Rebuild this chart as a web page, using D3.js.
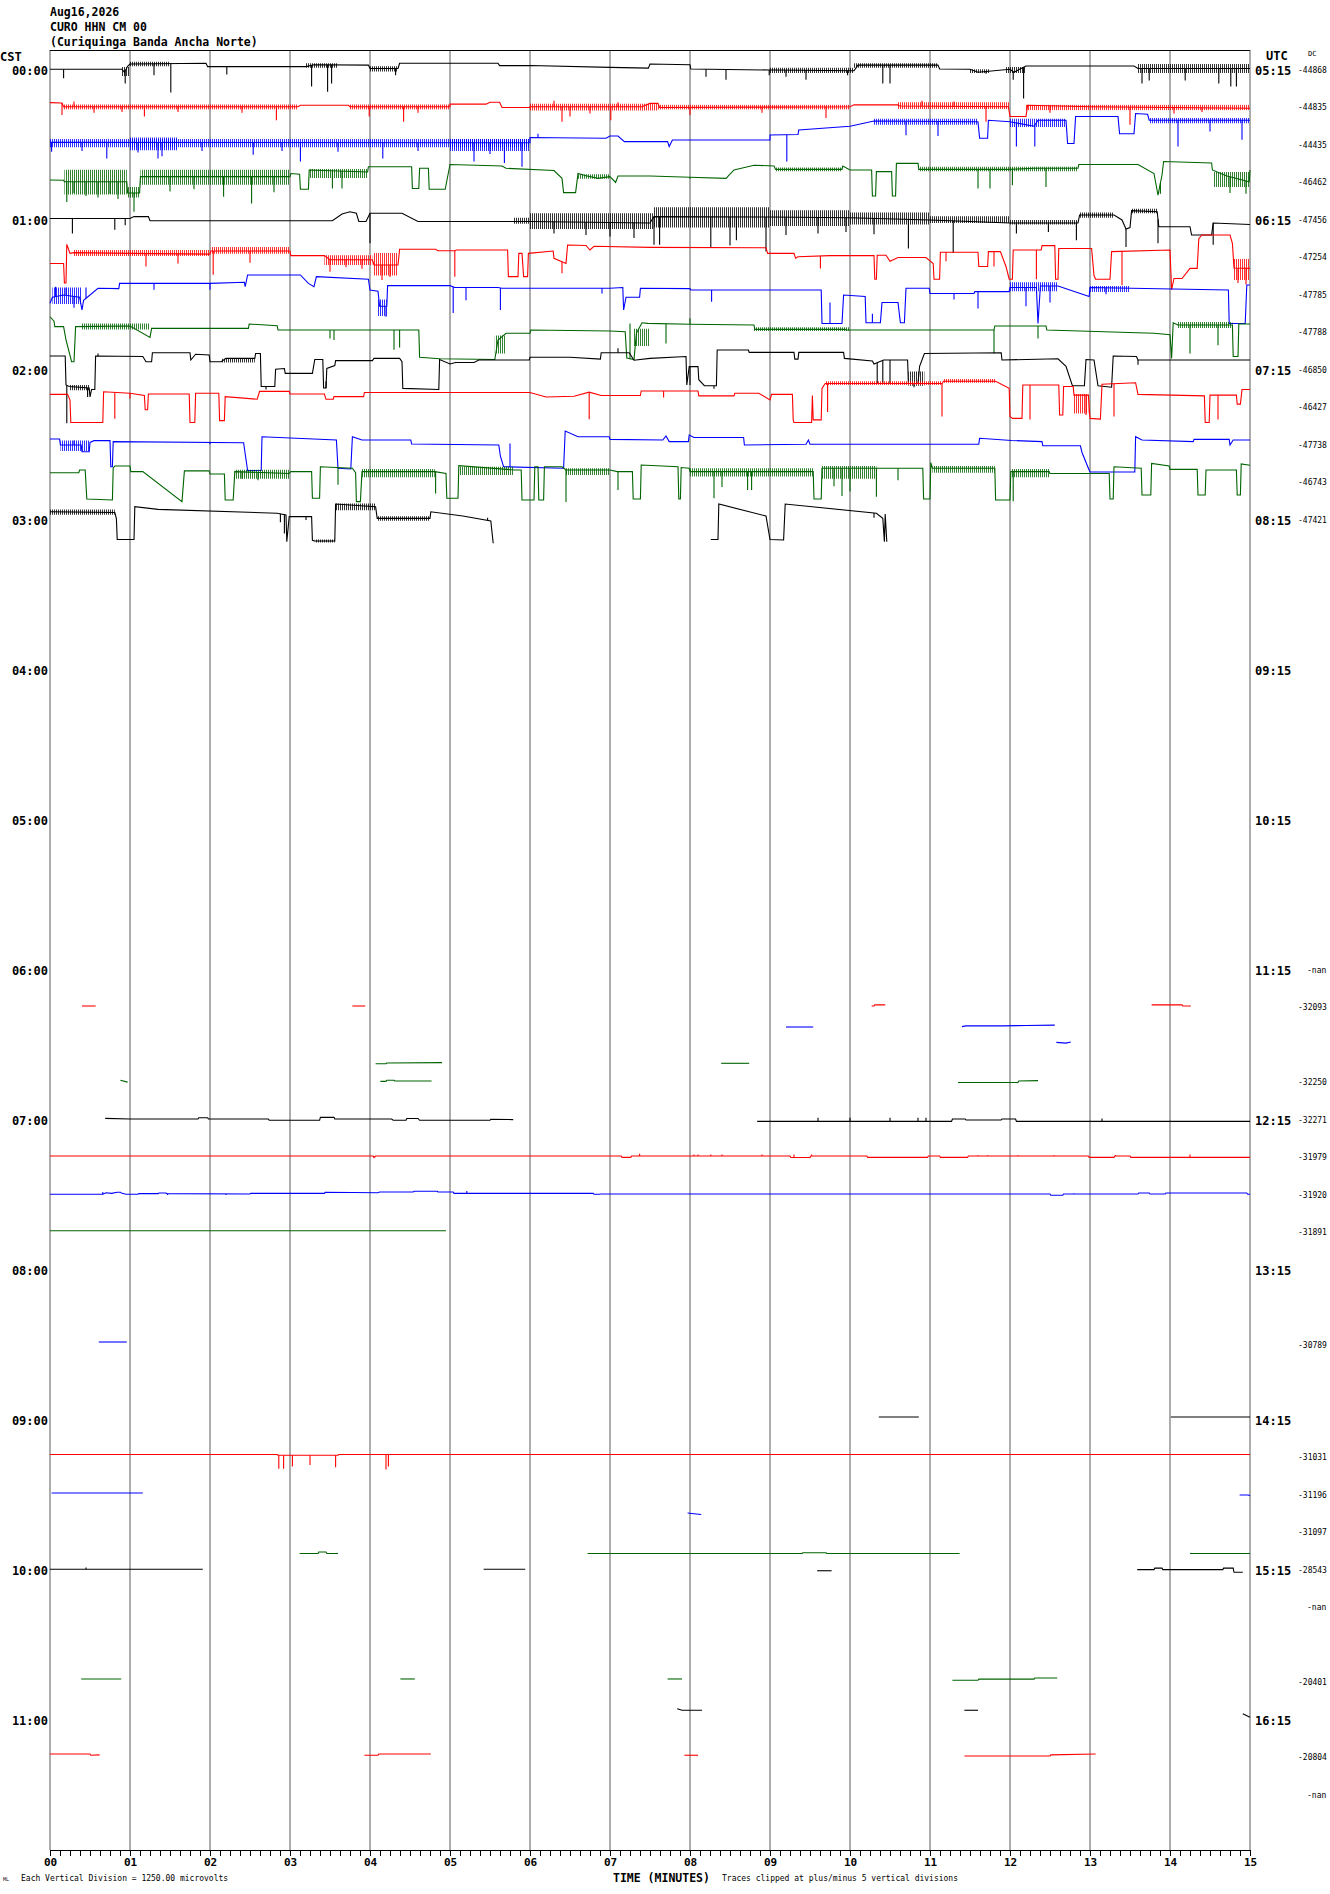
<!DOCTYPE html>
<html lang="en">
<head>
  <meta charset="UTF-8" />
  <title>CURO HHN CM 00</title>
  <style>
    body { margin: 0; background: #fff; }
    svg { background: #fff; display: block; }
    text { font-family: "DejaVu Sans Mono", "Liberation Mono", monospace; fill: #000; }
    .head { font-size: 11.5px; font-weight: bold; }
    .hour { font-size: 12px; font-weight: bold; }
    .dc { font-size: 8px; }
    .foot { font-size: 8px; }
    .axis text { font-size: 11px; font-weight: bold; font-family: "DejaVu Sans Mono", monospace; }
    .axis path, .axis line { stroke: #000; }
    .grid { stroke: #808080; stroke-width: 1.3; }
    .trace { fill: none; stroke-width: 1.1; stroke-linejoin: miter; }
  </style>
</head>
<body>
<svg width="1330" height="1894"></svg>

<script src="https://d3js.org/d3.v7.min.js"></script>
<script>
  // ---- labels ----
  const headerLines = ["Aug16,2026", "CURO HHN CM 00", "(Curiquinga Banda Ancha Norte)"];
  const hourLabelsCST = ["00:00","01:00","02:00","03:00","04:00","05:00","06:00","07:00","08:00","09:00","10:00","11:00"];
  const hourLabelsUTC = ["05:15","06:15","07:15","08:15","09:15","10:15","11:15","12:15","13:15","14:15","15:15","16:15"];
  const minuteLabels = ["00","01","02","03","04","05","06","07","08","09","10","11","12","13","14","15"];
  const dcLabels = [
    "-44868","-44835","-44435","-46462","-47456","-47254","-47785","-47788",
    "-46850","-46427","-47738","-46743","-47421","","","",
    "","","","","","","","",
    "-nan","-32093","","-32250","-32271","-31979","-31920","-31891",
    "","","-30789","","","-31031","-31196","-31097",
    "-28543","-nan","","-20401","","-20804","-nan",""
  ];
  const traceColors = ["#000000", "#ff0000", "#0000ff", "#006400"];

  // ---- traces: [minute, offset in vertical divisions] ----
  // noise bands: [from minute, to minute, low, high]
  const row00 = [[[0,0.1],[0.9,0.1],[0.93,-0.3],[0.97,0.5],[1.0,0.8],[1.95,0.9],[1.97,0.45],[3.2,0.45],[3.3,0.7],[3.98,0.65],[4.0,0.2],[4.35,0.2],[4.37,0.9],[5.6,0.9],[5.62,0.58],[6.0,0.6],[7.0,0.35],[7.48,0.25],[7.5,0.8],[8.0,0.7],[8.01,0.13],[9.0,0.0],[10.05,-0.1],[10.1,0.65],[11.1,0.65],[11.12,0.13],[11.5,0.1],[11.6,-0.3],[12.0,0.1],[12.05,-0.3],[12.2,0.53],[13.55,0.53],[13.6,0.2],[15,0.2]]];
  const spikes00 = [[0.17,-1.1],[0.94,-1.8],[1.3,-0.7],[1.51,-3.0],[2.21,-0.6],[3.27,-2.2],[3.47,-2.9],[3.52,-1.8],[4.32,-0.7],[8.2,-0.9],[8.45,-1.3],[8.99,-0.7],[9.2,-0.9],[9.45,-1.3],[9.97,-0.7],[10.41,-1.8],[10.5,-1.8],[11.7,-0.5],[12.04,-1.3],[12.17,-3.8],[13.65,-1.8],[13.74,-1.4],[14.19,-1.4],[14.61,-1.8],[14.76,-2.2],[14.83,-2.2]];
  const noise00 = [[0.9,1.0,-0.8,0.4],[1.0,1.5,0.5,1.1],[3.2,3.6,0.3,0.9],[4.0,4.35,-0.2,0.5],[9.0,10.05,-0.4,0.3],[10.05,11.1,0.3,0.9],[11.5,11.75,-0.4,0.1],[11.95,12.2,-0.4,0.4],[13.6,15,-0.4,0.8]];

  const row01 = [[[0,0.65],[0.15,0.6],[0.17,0.1],[3.1,0.1],[3.13,0.3],[3.73,0.3],[3.75,0.1],[5.0,0.1],[5.0,0.45],[5.45,0.45],[5.5,0.7],[5.62,0.7],[5.65,0.0],[6.0,0.0],[6.0,0.1],[7.4,0.1],[7.5,0.55],[7.6,0.55],[7.62,0.0],[10.0,0.1],[10.05,0.35],[10.6,0.35],[10.62,0.2],[11.98,0.1],[12.0,-1.2],[12.2,-1.2],[12.22,0.3],[13.0,0.1],[15,-0.1]]];
  const spikes01 = [[0.15,-1.0],[0.3,0.8],[0.55,-0.7],[0.9,-0.6],[1.18,-1.2],[1.6,-0.6],[2.4,-0.7],[2.83,-1.7],[3.99,-1.2],[4.42,-1.9],[4.6,-0.7],[6.3,0.9],[6.4,-1.9],[6.5,-1.2],[6.75,-0.8],[7.01,-1.7],[7.1,0.7],[8.0,-1.0],[8.9,-0.7],[9.7,-1.4],[10.9,0.9],[11.3,0.8],[11.7,-1.9],[12.5,-0.7],[13.5,-2.3],[14.05,-0.8],[14.4,-0.6]];
  const noise01 = [[0.17,3.1,-0.25,0.4],[3.75,5.0,-0.25,0.4],[6.0,7.6,-0.4,0.5],[7.6,10.0,-0.25,0.35],[10.6,12.0,-0.2,0.7],[12.2,15,-0.35,0.35]];

  const row02 = [[[0,0.35],[6.0,0.3],[6.0,1.0],[6.95,0.9],[7.0,1.2],[7.1,1.2],[7.18,0.45],[7.72,0.45],[7.74,-0.2],[7.78,0.67],[9.0,0.67],[9.0,1.33],[9.35,1.4],[9.36,2.0],[10.0,2.5],[10.3,3.2],[11.6,3.1],[11.62,0.9],[11.72,0.9],[11.73,3.3],[12.0,3.1],[12.3,2.5],[12.35,3.3],[12.7,3.3],[12.72,0.2],[12.8,0.2],[12.82,3.8],[13.35,3.8],[13.37,1.5],[13.55,1.5],[13.57,4.2],[13.72,4.1],[13.74,3.3],[15,3.3]]];
  const spikes02 = [[0.02,-0.9],[0.4,-0.8],[0.71,-1.8],[1.1,-1.0],[1.35,-1.8],[1.4,-1.5],[1.9,-0.8],[2.54,-1.3],[2.9,-0.8],[3.13,-2.2],[3.6,-0.9],[4.16,-1.8],[4.6,-0.8],[5.3,-2.2],[5.5,-1.2],[5.68,-2.4],[5.9,-2.9],[6.1,1.5],[9.21,-2.2],[10.7,1.3],[11.1,1.2],[12.08,-0.2],[12.31,-0.2],[14.1,-0.2],[14.5,1.8],[14.9,0.7]];
  const noise02 = [[0,6.0,-0.3,0.8],[1.0,1.6,-0.7,1.0],[5.0,6.0,-0.8,0.8],[10.3,11.6,2.7,3.5],[12.0,12.7,2.4,3.5],[13.74,15,2.9,3.6]];

  const row03 = [[[0,0.33],[0.17,0.3],[0.18,0.1],[0.96,0.1],[0.97,-1.4],[1.12,-1.4],[1.13,0.78],[3.0,0.78],[3.01,1.2],[3.12,1.1],[3.13,-0.9],[3.23,-0.9],[3.24,1.67],[3.97,1.4],[3.98,2.1],[4.52,2.1],[4.53,-0.8],[4.61,-0.8],[4.62,1.9],[4.73,1.9],[4.74,-0.9],[4.94,-0.9],[5.0,2.4],[5.65,2.2],[5.7,1.9],[6.3,1.6],[6.4,0.55],[6.42,-1.35],[6.57,-1.35],[6.6,1.2],[6.7,0.9],[6.85,0.55],[7.0,0.78],[7.07,0],[7.1,0.87],[7.5,0.87],[8.0,0.7],[8.45,0.55],[8.55,1.67],[8.8,2.3],[9.05,2.2],[9.07,1.75],[9.9,1.75],[9.91,2.2],[10.0,1.67],[10.27,1.67],[10.28,-1.8],[10.32,-1.8],[10.33,1.45],[10.52,1.45],[10.53,-1.8],[10.57,-1.8],[10.58,2.55],[10.85,2.55],[10.86,1.75],[12.0,1.75],[12.3,1.9],[12.85,1.9],[12.86,2.4],[13.6,2.4],[13.8,1.2],[13.85,-1.7],[13.9,1.0],[13.92,2.8],[14.52,2.6],[14.53,1.67],[14.7,0.9],[14.99,0.1],[15.0,1.67]]];
  const spikes03 = [[0.21,-2.6],[0.3,-1.4],[0.45,-1.8],[0.6,-2.0],[0.75,-1.5],[0.85,-2.2],[1.05,-3.9],[1.5,-1.2],[1.8,-0.9],[2.17,-1.9],[2.52,-2.8],[2.8,-1.3],[3.53,-0.8],[3.65,-0.8],[8.0,0.5],[11.6,-0.8],[11.75,-0.8],[12.03,-0.35],[12.45,-0.6],[13.88,-1.5],[14.75,-1.4],[14.95,-1.5]];
  const noise03 = [[0.18,0.96,-1.6,1.7],[0.97,1.12,-2.0,-0.6],[1.13,3.0,-0.3,1.7],[3.24,3.97,0.6,1.8],[6.6,7.0,0.5,1.1],[9.07,9.9,1.5,2.0],[10.86,12.85,1.5,2.1],[14.55,15,-0.6,1.4]];

  const row04 = [[[0,0.2],[1.0,0.2],[1.05,0.45],[1.23,0.45],[1.25,-0.1],[3.53,-0.1],[3.65,0.8],[3.75,1.1],[3.83,0.9],[3.86,-0.2],[3.95,-0.2],[4.0,0.9],[4.4,0.9],[4.6,-0.2],[6.0,-0.2],[7.5,-0.4],[7.55,0.45],[9.0,0.4],[10.0,0.3],[11.0,0.0],[12.0,-0.4],[12.85,-0.4],[12.87,0.67],[13.3,0.67],[13.4,0.0],[13.45,-1.2],[13.5,-1.0],[13.52,1.25],[13.84,1.1],[13.86,-0.9],[14.25,-0.9],[14.27,-2.0],[14.52,-2.0],[14.54,-0.4],[15,-0.6]]];
  const spikes04 = [[0.28,-1.8],[0.81,-1.3],[0.94,-0.7],[4.0,-3.1],[6.3,-1.8],[6.7,-2.0],[7.0,-2.2],[7.3,-2.4],[7.55,-3.3],[7.62,-3.3],[8.26,-3.6],[8.5,-3.4],[8.58,-2.7],[8.95,-4.2],[9.2,-2.0],[9.6,-1.8],[9.95,-1.6],[10.3,-1.9],[10.73,-3.8],[11.29,-4.4],[12.08,-1.8],[12.48,-1.6],[12.83,-2.7],[13.45,-3.6],[13.85,-3.1],[14.54,-3.3]];
  const noise04 = [[5.8,6.0,-0.5,0.3],[6.0,7.55,-1.2,0.9],[7.55,9.0,-1.0,1.7],[9.0,10.0,-0.8,1.3],[10.0,11.0,-0.6,1.0],[11.0,12.0,-0.4,0.5],[12.0,12.85,-0.6,0.0],[12.87,13.3,0.3,1.0],[13.52,13.84,0.9,1.5]];

  const row05 = [[[0,-0.8],[0.17,-0.8],[0.18,-3.4],[0.2,-3.4],[0.21,1.75],[0.25,0.55],[0.3,0.65],[1.0,0.55],[2.0,0.45],[2.01,0.87],[3.0,0.87],[3.01,0.25],[3.43,0.25],[3.5,-0.3],[4.03,-0.3],[4.05,-1.0],[4.35,-1.0],[4.37,1.1],[4.82,1.1],[4.85,0.9],[5.06,0.9],[5.08,1.0],[5.72,1.0],[5.73,-2.55],[5.85,-2.55],[5.86,0.55],[5.9,0.55],[5.92,-2.55],[5.97,-2.55],[5.98,0.55],[6.29,0.87],[6.3,-0.1],[6.45,-0.8],[6.47,1.67],[6.7,1.6],[6.75,1.0],[6.8,1.5],[7.5,1.35],[8.95,1.3],[8.97,0.55],[9.3,0.55],[9.32,-0.1],[9.35,0.1],[9.75,0.25],[10.3,0.25],[10.31,-2.9],[10.33,-2.9],[10.34,0.3],[10.45,0.3],[10.5,-0.5],[10.6,0.0],[10.95,0.0],[11.04,-0.8],[11.05,-2.9],[11.12,-2.9],[11.13,0.7],[11.6,0.7],[11.61,-1.2],[11.72,-1.2],[11.73,0.78],[11.88,0.78],[11.95,-1.2],[11.99,-2.9],[12.03,-2.9],[12.04,1.0],[12.39,1.0],[12.4,1.58],[12.56,1.58],[12.57,-2.9],[12.6,-2.9],[12.61,1.2],[13.02,1.2],[13.05,-2.4],[13.07,-2.9],[13.25,-2.9],[13.27,0.78],[14.0,1.0],[14.02,-4.3],[14.05,-2.8],[14.15,-2.8],[14.25,-1.45],[14.34,-1.45],[14.36,2.5],[14.4,3.0],[14.75,3.0],[14.78,1.9],[14.8,-1.4],[15,-1.45]]];
  const spikes05 = [[1.2,-1.2],[1.6,-0.8],[2.04,-2.3],[2.5,-0.7],[3.5,-1.9],[3.7,-1.3],[3.9,-1.5],[4.15,-3.0],[4.25,-2.6],[5.06,-2.55],[6.4,-2.1],[9.63,-1.45],[11.2,-0.5],[11.8,-1.2],[12.33,-2.9],[13.4,-3.7],[14.85,-3.4],[14.95,-3.6]];
  const noise05 = [[0.3,2.0,0.2,1.0],[2.01,3.0,0.5,1.4],[3.43,4.03,-1.0,0.3],[4.05,4.35,-2.4,0.6],[14.8,15,-3.0,-0.2]];

  const row06 = [[[0,-1.1],[0.03,-0.3],[0.17,0.0],[0.37,-0.3],[0.4,-2.0],[0.42,-0.7],[0.6,0.9],[0.86,0.85],[0.87,1.55],[2.0,1.55],[2.43,1.7],[2.44,1.1],[2.47,2.67],[3.13,2.67],[3.23,1.55],[3.3,1.1],[3.33,2.45],[3.98,2.1],[4.0,0.67],[4.1,0.5],[4.12,-1.5],[4.21,-1.5],[4.22,1.25],[5.0,1.25],[5.06,1.0],[5.6,1.0],[5.65,0.9],[7.0,0.9],[7.16,1.0],[7.17,-2.0],[7.2,-0.3],[7.37,-0.3],[7.38,0.9],[8.0,0.85],[8.01,0.67],[9.64,0.67],[9.65,-3.8],[9.9,-3.8],[9.92,0.0],[10.19,-0.2],[10.2,-3.7],[10.38,-3.7],[10.4,-1.0],[10.6,-1.0],[10.63,-3.7],[10.68,-3.7],[10.7,0.9],[10.99,0.9],[11.0,0.2],[11.55,0.2],[11.56,0.45],[11.99,0.45],[12.0,1.0],[12.33,1.0],[12.35,-3.8],[12.38,1.2],[12.6,1.2],[12.99,-0.2],[13.0,1.0],[14.73,0.67],[14.74,-3.8],[14.94,-3.8],[14.96,1.33],[15,1.33]]];
  const spikes06 = [[0.07,1.1],[0.2,1.0],[0.3,-1.7],[0.45,1.0],[1.3,0.7],[2.0,0.7],[4.2,-2.9],[5.04,-2.4],[5.2,-0.7],[5.63,-2.0],[6.9,0.2],[8.27,-0.9],[9.75,-1.0],[10.28,-2.5],[11.3,-0.6],[11.6,-1.8],[12.2,-1.5],[12.5,-1.0],[13.2,0.1]];
  const noise06 = [[0.03,0.4,-1.2,1.0],[4.1,4.21,-2.8,-0.6],[12.0,12.6,0.5,1.7],[13.0,13.5,0.4,1.2]];

  const row07 = [[[0,2.1],[0.05,1.5],[0.06,0.78],[0.17,0.78],[0.2,-1.0],[0.27,-3.9],[0.3,-3.9],[0.32,0.78],[1.0,0.87],[1.25,-0.65],[1.27,0.55],[2.48,0.55],[2.49,1.13],[2.84,0.9],[2.85,0.33],[4.61,0.33],[4.62,-3.3],[4.87,-3.5],[5.56,-3.6],[5.6,-1.0],[5.7,-0.1],[6.0,-0.1],[6.01,0.33],[7.0,0.2],[7.19,0.1],[7.21,-3.4],[7.3,-3.6],[7.33,-0.1],[7.4,1.3],[7.47,1.22],[8.0,1.1],[8.8,1.0],[8.81,0.42],[9.94,0.42],[9.95,0.33],[11.8,0.33],[11.81,0.87],[12.45,0.87],[12.46,0.33],[13.8,-0.1],[14.0,-0.3],[14.02,-3.45],[14.04,1.3],[14.1,1.0],[14.78,1.0],[14.79,-3.2],[14.85,-3.2],[14.86,1.13],[15,1.13]]];
  const spikes07 = [[3.5,-0.8],[3.55,-1.0],[4.3,-2.3],[4.37,-2.0],[7.25,1.2],[7.7,-1.45],[8.0,1.9],[11.8,-2.8],[12.35,-0.8],[14.25,-2.8],[14.6,-1.7]];
  const noise07 = [[0.4,1.25,0.4,1.2],[5.56,5.7,-2.8,-0.4],[7.3,7.5,-1.8,0.5],[8.8,10.0,0.2,0.7],[14.1,14.78,0.6,1.4]];

  const row08 = [[[0,1.87],[0.19,1.87],[0.2,-2.0],[0.24,-2.2],[0.49,-2.4],[0.5,-3.6],[0.52,-2.6],[0.56,-2.6],[0.57,1.87],[1.16,1.8],[1.2,1.1],[1.27,1.1],[1.28,2.3],[1.75,2.3],[1.76,1.33],[1.82,2.1],[1.99,2.0],[2.0,1.1],[2.14,1.1],[2.2,1.55],[2.56,1.55],[2.57,2.2],[2.63,2.2],[2.64,-2.2],[2.81,-2.2],[2.82,0.1],[2.93,0.2],[2.94,-0.45],[3.28,-0.45],[3.31,1.4],[3.41,1.4],[3.42,-2.4],[3.45,-2.4],[3.46,0.2],[3.56,0.6],[3.57,1.25],[4.03,1.25],[4.05,1.55],[4.37,1.55],[4.4,1.1],[4.41,-2.45],[4.86,-2.6],[4.87,1.4],[5.0,0.8],[5.07,1.0],[5.3,1.0],[5.36,1.33],[5.99,1.33],[6.0,1.7],[6.5,1.7],[6.88,1.45],[6.89,2.3],[7.24,2.3],[7.3,1.3],[7.5,1.55],[7.95,1.8],[7.96,-2.0],[7.99,0.45],[8.1,0.45],[8.11,-1.3],[8.18,-2.1],[8.33,-2.1],[8.34,2.67],[8.73,2.67],[8.74,2.35],[9.3,2.35],[9.31,1.45],[9.35,1.45],[9.36,2.35],[9.92,2.35],[9.93,1.55],[10.28,1.2],[10.3,0.8],[10.42,1.33],[10.72,1.33],[10.73,-1.8],[10.85,-1.8],[10.87,0.5],[10.93,2.2],[11.89,2.3],[11.9,1.33],[12.6,1.5],[12.7,0.5],[12.78,-2.1],[12.93,-2.1],[12.95,1.4],[13.05,1.33],[13.1,-2.1],[13.27,-2.3],[13.29,1.87],[13.58,1.8],[13.6,1.33],[15,1.33]]];
  const spikes08 = [[0.21,-7.1],[0.47,-3.6],[0.6,2.2],[2.7,-2.6],[3.45,-1.5],[7.1,2.9],[8.0,-2.0],[8.3,-2.5],[10.34,-1.8],[10.41,-1.8],[10.5,-1.8],[10.8,-2.3],[13.6,0.7]];
  const noise08 = [[0.24,0.49,-2.7,-2.0],[2.14,2.56,1.0,1.5],[10.73,10.93,-2.1,-0.2]];

  const row09 = [[[0,1.75],[0.22,1.75],[0.25,1.0],[0.26,-2.0],[0.66,-2.0],[0.67,2.1],[1.0,1.9],[1.18,1.6],[1.19,-0.3],[1.22,-0.3],[1.23,1.8],[1.74,1.8],[1.75,-2.0],[1.81,-2.0],[1.82,1.9],[2.11,1.9],[2.12,-1.75],[2.18,-1.75],[2.19,1.45],[2.59,1.1],[2.62,2.15],[2.99,2.15],[3.0,1.8],[3.43,1.8],[3.45,1.1],[3.54,1.1],[3.55,1.45],[3.92,1.45],[3.93,2.0],[6.0,2.0],[6.2,1.4],[6.55,1.5],[6.74,2.05],[6.89,1.6],[7.38,1.6],[7.39,2.2],[8.1,2.2],[8.11,1.55],[8.55,1.55],[8.56,1.9],[8.86,1.9],[9.0,1.0],[9.02,1.75],[9.28,1.75],[9.29,-1.65],[9.3,-2.0],[9.52,-2.0],[9.53,1.6],[9.54,-1.65],[9.64,-1.65],[9.65,2.55],[9.69,3.2],[11.15,3.2],[11.17,3.5],[11.82,3.5],[11.99,2.55],[12.0,-1.2],[12.03,-1.45],[12.15,-1.45],[12.16,3.0],[12.61,3.0],[12.62,-1.0],[12.66,-1.0],[12.67,2.8],[12.79,2.8],[12.8,1.65],[12.98,1.65],[13.0,-1.45],[13.13,-1.55],[13.15,3.1],[13.57,3.3],[13.6,1.75],[14.43,1.55],[14.44,-2.0],[14.49,-2.0],[14.5,1.65],[14.83,1.65],[14.84,0.45],[14.88,0.45],[14.9,2.4],[15,2.4]]];
  const spikes09 = [[0.81,-1.5],[1.0,1.2],[6.74,-1.55],[7.67,1.35],[9.72,-0.6],[11.15,-1.2],[12.25,-1.6],[12.95,-1.0],[13.3,-1.2],[14.6,-1.6]];
  const noise09 = [[9.69,11.15,3.0,3.5],[11.17,11.82,3.3,3.8],[12.8,12.98,-0.8,1.8]];

  const row10 = [[[0,0.8],[0.12,0.8],[0.13,0.0],[0.39,0.0],[0.4,-0.9],[0.49,-0.9],[0.5,0.35],[0.55,0.58],[0.75,0.58],[0.76,-2.9],[0.78,-2.9],[0.79,0.45],[2.42,0.3],[2.47,-3.4],[2.64,-3.4],[2.65,1.1],[3.58,0.67],[3.6,-3.1],[3.76,-3.2],[3.78,1.1],[3.9,0.67],[4.51,0.67],[4.52,0.13],[5.61,0.0],[5.63,-1.5],[5.67,-2.9],[6.42,-3.1],[6.44,1.87],[6.6,1.1],[6.99,1.1],[7.0,0.75],[7.66,0.67],[7.7,1.2],[7.74,0.45],[7.98,0.45],[7.99,1.33],[8.05,1.0],[8.67,1.0],[8.68,0.0],[9.45,0.1],[9.48,0.67],[9.5,0.1],[11.61,0.1],[11.62,0.9],[12.02,0.6],[12.4,0.45],[12.41,-0.1],[12.88,-0.1],[12.9,-1.0],[12.98,-3.1],[13.0,-3.6],[13.56,-3.6],[13.57,1.1],[13.65,0.67],[14.29,0.45],[14.3,0.75],[14.74,0.75],[14.75,0.0],[14.79,0.67],[15,0.67]]];
  const spikes10 = [[0.3,0.6],[2.0,0.1],[5.75,0.2]];
  const noise10 = [[0.13,0.49,-0.8,0.6]];

  const row11 = [[[0,1.3],[0.36,1.3],[0.37,1.67],[0.44,1.67],[0.46,-2.2],[0.78,-2.33],[0.79,1.9],[0.81,2.2],[1.0,2.2],[1.01,1.45],[1.16,1.45],[1.65,-2.55],[1.68,1.55],[1.99,1.55],[2.0,1.13],[2.18,1.13],[2.19,-2.33],[2.29,-2.33],[2.31,1.45],[2.99,1.2],[3.01,1.45],[3.27,1.45],[3.28,-2.1],[3.37,-2.1],[3.38,2.1],[3.78,1.9],[3.82,1.3],[3.83,-2.55],[3.88,-2.55],[3.9,1.45],[4.81,1.45],[4.95,1.2],[4.96,-2.1],[5.1,-2.1],[5.11,2.25],[5.8,1.67],[5.89,1.67],[5.9,-2.33],[6.05,-2.33],[6.06,2.1],[6.1,2.1],[6.11,-2.33],[6.17,-2.33],[6.18,2.1],[6.4,2.1],[6.45,1.67],[7.0,1.67],[7.09,1.45],[7.28,1.45],[7.29,-2.2],[7.38,-2.2],[7.39,2.33],[7.85,2.1],[7.86,-2.2],[7.88,-2.2],[7.89,2.0],[7.99,1.9],[8.0,1.45],[9.54,1.45],[9.55,-2.2],[9.64,-2.2],[9.65,1.9],[10.91,1.9],[10.92,-2.2],[11.0,-2.2],[11.01,2.65],[11.03,1.9],[11.81,1.9],[11.82,-2.33],[12.0,-2.33],[12.01,1.45],[12.49,1.45],[12.5,1.2],[13.24,1.2],[13.25,-2.2],[13.29,-2.2],[13.3,2.1],[13.64,1.9],[13.65,-1.67],[13.76,-1.67],[13.77,2.55],[13.99,2.2],[14.0,1.75],[14.34,1.75],[14.35,-1.67],[14.44,-1.67],[14.45,1.67],[14.83,1.67],[14.84,-1.67],[14.88,-1.67],[14.89,2.47],[15,2.3]]];
  const spikes11 = [[2.4,0.5],[2.6,0.3],[3.6,-0.3],[4.82,-1.45],[6.45,-2.6],[7.1,-1.0],[8.3,-2.1],[8.4,-0.6],[8.72,-1.0],[8.77,-1.0],[9.8,-0.5],[9.9,-1.8],[10.0,-1.2],[10.33,-1.9],[10.6,0.3],[12.04,-2.5]];
  const noise11 = [[2.31,2.99,0.5,1.7],[3.9,4.81,0.7,1.8],[5.11,5.8,1.0,2.1],[6.45,7.0,1.0,1.9],[8.0,9.54,0.8,1.9],[9.65,10.33,0.5,2.2],[11.03,11.81,1.3,2.2],[12.01,12.49,0.7,1.8]];

  const row12 = [
    [[0,1.1],[0.81,1.0],[0.83,0.2],[0.84,-2.6],[1.05,-2.6],[1.06,1.78],[1.35,1.42],[2.84,0.9],[2.95,0.67],[2.96,-2.9],[2.99,0.45],[3.27,0.45],[3.28,-2.7],[3.31,-2.8],[3.56,-2.8],[3.57,2.13],[4.07,1.78],[4.09,0.22],[4.75,0.22],[4.76,1.1],[5.16,0.53],[5.51,-0.13],[5.54,-3.1]],
    [[8.26,-2.6],[8.35,-2.6],[8.36,2.13],[8.95,0.53],[9.0,-2.6],[9.17,-2.67],[9.19,2.13],[10.33,0.9],[10.41,0.22],[10.43,-2.9],[10.44,0.8],[10.46,-2.9]]
  ];
  const spikes12 = [[2.88,-0.3],[2.93,-1.8],[3.2,0.0],[5.47,0.3],[10.3,0.3]];
  const noise12 = [[0,0.81,0.7,1.4],[3.31,3.56,-3.0,-2.6],[3.57,4.07,1.3,2.2],[4.09,4.75,-0.1,0.5]];

  const row25 = [[[0.40,0.2],[0.57,0.2]], [[3.78,0.2],[3.94,0.2]], [[10.27,0.2],[10.3,0.2],[10.31,0.35],[10.44,0.35]], [[13.77,0.35],[14.15,0.35],[14.16,0.2],[14.26,0.2]]];
  const row26 = [[[9.2,2.4],[9.54,2.4]], [[11.4,2.45],[11.45,2.55],[11.9,2.55],[12.2,2.6],[12.56,2.65]], [[12.58,0.35],[12.7,0.25],[12.76,0.4]]];
  const row27 = [[[0.88,0.3],[0.97,0.05]], [[4.07,2.5],[4.2,2.5],[4.21,2.6],[4.9,2.65]], [[4.13,0.15],[4.2,0.15],[4.21,0.3],[4.3,0.3],[4.31,0.2],[4.77,0.2]], [[8.39,2.56],[8.74,2.56]], [[11.35,0.0],[12.1,0.0],[12.11,0.2],[12.35,0.25]]];
  const row28 = [
    [[0.69,0.22],[1.0,0.13],[1.85,0.13],[1.86,0.3],[1.97,0.3],[1.98,0.13],[2.73,0.13],[2.74,-0.04],[3.37,-0.04],[3.38,0.35],[3.55,0.35],[3.56,0.13],[4.27,0.13],[4.29,-0.04],[4.45,-0.04],[4.46,0.2],[4.6,0.2],[4.62,-0.04],[5.5,-0.04],[5.51,0.1],[5.79,0.05]],
    [[8.84,-0.18],[11.27,-0.18],[11.28,0.13],[11.44,0.13],[11.45,0.0],[11.89,0.0],[11.9,0.13],[12.07,0.13],[12.08,-0.18],[15,-0.18]]
  ];
  const spikes28 = [[9.6,0.3],[10.0,0.3],[10.5,0.3],[10.85,0.3],[10.95,0.3],[13.15,0.2]];
  const row29 = [[[0,0.2],[4.04,0.2],[4.05,0.0],[4.07,0.2],[7.14,0.2],[7.15,0.02],[7.26,0.02],[7.27,0.2],[9.25,0.2],[9.26,0.0],[9.5,0.0],[9.51,0.2],[10.21,0.2],[10.22,0.02],[10.97,0.02],[10.98,0.2],[11.12,0.2],[11.13,0.02],[11.47,0.02],[11.48,0.2],[12.98,0.2],[12.99,0.02],[13.3,0.02],[13.31,0.2],[13.5,0.2],[13.51,0.02],[15,0.02]]];
  const spikes29 = [[7.37,0.5],[8.05,0.4],[8.1,0.4],[8.26,0.4],[8.4,0.4],[8.9,0.4],[9.3,0.4],[9.52,0.4],[11.6,0.3],[11.72,0.3],[12.1,0.3],[12.55,0.3],[13.32,0.35],[14.25,0.4]];
  const row30 = [[[0,0.1],[0.66,0.1],[0.7,0.3],[0.77,0.22],[0.84,0.36],[0.88,0.36],[0.9,0.22],[0.95,0.1],[1.1,0.1],[1.11,0.18],[1.35,0.18],[1.36,0.27],[1.45,0.27],[1.46,0.18],[2.5,0.13],[2.51,0.22],[3.43,0.22],[3.44,0.36],[4.1,0.3],[4.12,0.4],[4.54,0.4],[4.55,0.5],[4.84,0.5],[4.85,0.4],[5.04,0.4],[5.05,0.22],[6.79,0.22],[6.8,0.1],[6.87,0.1],[6.88,0.13],[12.5,0.13],[12.51,-0.04],[12.66,-0.04],[12.67,0.13],[13.6,0.13],[13.61,0.27],[13.74,0.27],[13.75,0.13],[13.94,0.13],[13.95,0.27],[14.96,0.27],[14.97,0.1],[15,0.1]]];
  const spikes30 = [[0.66,0.4],[1.47,0.0],[2.2,0.0],[5.21,0.55],[12.8,0.2]];
  const row31 = [[[0,0.24],[4.95,0.24]]];
  const row34 = [[[0.61,0.4],[0.96,0.4]]];
  const row36 = [[[10.36,0.4],[10.86,0.4]], [[14.01,0.4],[15,0.4]]];
  const row37 = [[[0,0.4],[2.84,0.4],[2.85,0.3],[3.6,0.3],[3.61,0.4],[15,0.4]]];
  const spikes37 = [[2.86,-1.5],[2.92,-1.5],[3.03,-1.2],[3.25,-1.0],[3.57,-1.3],[4.2,-1.6],[4.23,-1.2]];
  const row38 = [[[0.02,0.27],[1.16,0.27]], [[7.97,-2.4],[8.05,-2.5],[8.14,-2.6]], [[14.87,0.0],[14.98,0.0],[15,-0.1]]];
  const row39 = [[[3.12,-2.8],[3.35,-2.8],[3.36,-2.6],[3.45,-2.6],[3.46,-2.8],[3.6,-2.8]], [[6.72,-2.8],[9.4,-2.8],[9.41,-2.7],[9.7,-2.7],[9.71,-2.8],[11.37,-2.8]], [[14.25,-2.8],[15,-2.8]]];
  const row40 = [[[0,0.1],[1.91,0.1]], [[5.42,0.1],[5.94,0.1]], [[9.59,-0.1],[9.77,-0.1]], [[13.59,0.05],[13.8,0.05],[13.81,0.25],[13.9,0.25],[13.91,0.05],[14.66,0.05],[14.67,0.25],[14.79,0.25],[14.8,-0.3],[14.91,-0.3]]];
  const spikes40 = [[0.45,0.35]];
  const row43 = [[[0.39,0.47],[0.89,0.47]], [[4.38,0.47],[4.56,0.47]], [[7.72,0.47],[7.9,0.47]], [[11.28,0.3],[11.6,0.3],[11.61,0.45],[12.3,0.45],[12.31,0.6],[12.59,0.6]]];
  const row44 = [[[7.84,1.5],[7.9,1.3],[8.15,1.3]], [[11.43,1.3],[11.6,1.3]], [[14.91,0.84],[15,0.36]]];
  const row45 = [[[0,0.47],[0.5,0.47],[0.51,0.3],[0.62,0.35]], [[3.93,0.3],[4.1,0.3],[4.11,0.47],[4.76,0.47]], [[7.93,0.3],[8.1,0.3]], [[11.43,0.2],[12.5,0.2],[12.51,0.35],[13.07,0.47]]];

  const traceRows = [
    { row: 0, segs: row00, spikes: spikes00, noise: noise00 },
    { row: 1, segs: row01, spikes: spikes01, noise: noise01 },
    { row: 2, segs: row02, spikes: spikes02, noise: noise02 },
    { row: 3, segs: row03, spikes: spikes03, noise: noise03 },
    { row: 4, segs: row04, spikes: spikes04, noise: noise04 },
    { row: 5, segs: row05, spikes: spikes05, noise: noise05 },
    { row: 6, segs: row06, spikes: spikes06, noise: noise06 },
    { row: 7, segs: row07, spikes: spikes07, noise: noise07 },
    { row: 8, segs: row08, spikes: spikes08, noise: noise08 },
    { row: 9, segs: row09, spikes: spikes09, noise: noise09 },
    { row: 10, segs: row10, spikes: spikes10, noise: noise10 },
    { row: 11, segs: row11, spikes: spikes11, noise: noise11 },
    { row: 12, segs: row12, spikes: spikes12, noise: noise12 },
    { row: 25, segs: row25 },
    { row: 26, segs: row26 },
    { row: 27, segs: row27 },
    { row: 28, segs: row28, spikes: spikes28 },
    { row: 29, segs: row29, spikes: spikes29 },
    { row: 30, segs: row30, spikes: spikes30 },
    { row: 31, segs: row31 },
    { row: 34, segs: row34 },
    { row: 36, segs: row36 },
    { row: 37, segs: row37, spikes: spikes37 },
    { row: 38, segs: row38 },
    { row: 39, segs: row39 },
    { row: 40, segs: row40, spikes: spikes40 },
    { row: 43, segs: row43 },
    { row: 44, segs: row44 },
    { row: 45, segs: row45 }
  ];

  // ---- layout ----
  const svg = d3.select("svg");
  const plotLeft = 50, plotRight = 1250, plotTop = 50, plotBottom = 1850;
  const nRows = 48;

  const x = d3.scaleLinear().domain([0, 15]).range([plotLeft, plotRight]);
  const rowY = d3.scaleLinear().domain([0, nRows]).range([70, 70 + nRows * 37.5]);
  const amp = d3.scaleLinear().domain([0, 1]).range([0, -7.5]);   // px per vertical division

  // hatch patterns used to render dense noise stretches
  const defs = svg.append("defs");
  traceColors.forEach((c, i) => {
    const p = defs.append("pattern")
      .attr("id", "hatch" + i)
      .attr("patternUnits", "userSpaceOnUse")
      .attr("width", 2).attr("height", 200);
    p.append("rect").attr("width", 1).attr("height", 200).attr("fill", c);
  });

  // header
  svg.selectAll(".head").data(headerLines).enter().append("text")
    .attr("class", "head")
    .attr("x", plotLeft)
    .attr("y", (d, i) => 16 + i * 14.8)
    .text(d => d);

  // minute grid
  svg.selectAll(".grid").data(d3.range(0, 16)).enter().append("line")
    .attr("class", "grid")
    .attr("x1", d => x(d)).attr("x2", d => x(d))
    .attr("y1", plotTop).attr("y2", plotBottom);

  svg.append("line")
    .attr("x1", plotLeft).attr("x2", plotRight)
    .attr("y1", plotTop + 0.5).attr("y2", plotTop + 0.5)
    .attr("stroke", "#000").attr("stroke-width", 1.2);

  // left / right labels
  svg.append("text").attr("class", "hour").attr("x", 0).attr("y", 61).text("CST");
  svg.append("text").attr("class", "hour").attr("x", 1266).attr("y", 60).text("UTC");
  svg.append("text").attr("class", "dc").attr("x", 1308).attr("y", 56).style("font-size", "7px").text("DC");

  svg.selectAll(".cst").data(hourLabelsCST).enter().append("text")
    .attr("class", "hour")
    .attr("x", 48)
    .attr("y", (d, i) => rowY(i * 4))
    .attr("dy", "0.38em")
    .attr("text-anchor", "end")
    .text(d => d);

  svg.selectAll(".utc").data(hourLabelsUTC).enter().append("text")
    .attr("class", "hour")
    .attr("x", 1255)
    .attr("y", (d, i) => rowY(i * 4))
    .attr("dy", "0.38em")
    .text(d => d);

  svg.selectAll(".dcv").data(dcLabels).enter().append("text")
    .attr("class", "dc")
    .attr("x", d => d === "-nan" ? 1307 : 1298)
    .attr("y", (d, i) => rowY(i))
    .attr("dy", "0.35em")
    .text(d => d);

  // traces
  function valueAt(segs, m) {
    for (const pts of segs) {
      if (m < pts[0][0] || m > pts[pts.length - 1][0]) continue;
      for (let i = 1; i < pts.length; i++) {
        const a = pts[i - 1], b = pts[i];
        if (m >= a[0] && m <= b[0]) {
          if (b[0] === a[0]) return a[1];
          return a[1] + (b[1] - a[1]) * (m - a[0]) / (b[0] - a[0]);
        }
      }
    }
    return 0;
  }

  traceRows.forEach(t => {
    const ci = t.row % 4;
    const color = traceColors[ci];
    const base = rowY(t.row);
    const g = svg.append("g");

    (t.noise || []).forEach(n => {
      g.append("rect")
        .attr("x", x(n[0]))
        .attr("width", x(n[1]) - x(n[0]))
        .attr("y", base + amp(n[3]))
        .attr("height", amp(n[2]) - amp(n[3]))
        .attr("fill", `url(#hatch${ci})`)
        .attr("opacity", 0.8);
    });

    const line = d3.line()
      .x(p => x(p[0]))
      .y(p => base + amp(p[1]));

    g.selectAll("path").data(t.segs).enter().append("path")
      .attr("class", "trace")
      .attr("stroke", color)
      .attr("d", line);

    g.selectAll("line.spk").data(t.spikes || []).enter().append("line")
      .attr("class", "spk")
      .attr("x1", d => x(d[0])).attr("x2", d => x(d[0]))
      .attr("y1", d => base + amp(valueAt(t.segs, d[0])))
      .attr("y2", d => base + amp(d[1]))
      .attr("stroke", color)
      .attr("stroke-width", 1.1);
  });

  // bottom axis
  const axis = d3.axisBottom(x)
    .tickValues(d3.range(0, 15.0001, 0.125))
    .tickSize(6)
    .tickSizeOuter(0)
    .tickFormat(d => Number.isInteger(d) ? minuteLabels[d] : "");

  svg.append("g")
    .attr("class", "axis")
    .attr("transform", `translate(0,${plotBottom})`)
    .call(axis)
    .call(a => a.selectAll("text").attr("dy", "0.6em"));

  // footer
  svg.append("text").attr("x", 3).attr("y", 1881).style("font-size", "5px").text("ML");
  svg.append("text").attr("class", "foot").attr("x", 21).attr("y", 1881)
    .text("Each Vertical Division = 1250.00 microvolts");
  svg.append("text").attr("class", "head").attr("x", 613).attr("y", 1882)
    .text("TIME (MINUTES)");
  svg.append("text").attr("class", "foot").attr("x", 722).attr("y", 1881)
    .text("Traces clipped at plus/minus 5 vertical divisions");
</script>
</body>
</html>
